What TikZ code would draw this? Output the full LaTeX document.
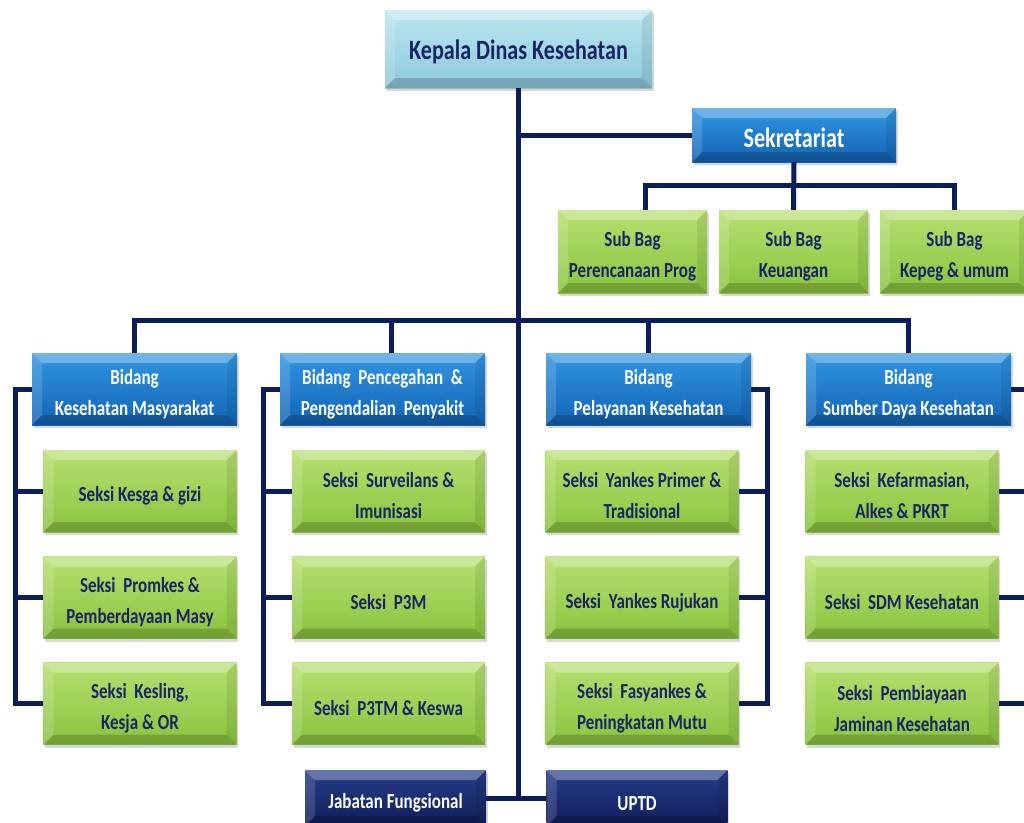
\documentclass[tikz,border=0pt]{standalone}
\usepackage{fontspec}
\setmainfont[FakeStretch=0.79]{Carlito}
\usetikzlibrary{shadows}
\definecolor{linenavy}{HTML}{0B1D5A}
\definecolor{txtnavy}{HTML}{1A2464}
\definecolor{headtop}{HTML}{BCE6F1}
\definecolor{headbot}{HTML}{8CC9DA}
\definecolor{bluetop}{HTML}{3196E2}
\definecolor{bluebot}{HTML}{1263B4}
\definecolor{greentop}{HTML}{B6E070}
\definecolor{greenbot}{HTML}{8AC33E}
\definecolor{darktop}{HTML}{273B88}
\definecolor{darkbot}{HTML}{101E5B}
\newcommand\atas{\rule{0pt}{25pt}}

\begin{document}
\begin{tikzpicture}[x=1pt,y=-1pt,
    every node/.style={inner sep=2pt,align=center,font=\bfseries\fontsize{21.5}{31}\selectfont,
        execute at begin node={\rule{0pt}{25pt}}},
    bevel/.style={path picture={
        \path (path picture bounding box.north west) coordinate (pa)
              (path picture bounding box.north east) coordinate (pb)
              (path picture bounding box.south east) coordinate (pc)
              (path picture bounding box.south west) coordinate (pd);
        \fill[white,opacity=.3] (pa)--(pb)--([shift={(-10pt,-10pt)}]pb)--([shift={(10pt,-10pt)}]pa)--cycle;
        \fill[black,opacity=.08] (pb)--(pc)--([shift={(-10pt,10pt)}]pc)--([shift={(-10pt,-10pt)}]pb)--cycle;
        \fill[black,opacity=.18] (pc)--(pd)--([shift={(10pt,10pt)}]pd)--([shift={(-10pt,10pt)}]pc)--cycle;
        \fill[white,opacity=.15] (pd)--(pa)--([shift={(10pt,-10pt)}]pa)--([shift={(10pt,10pt)}]pd)--cycle;}},
    box/.style={rectangle,bevel,drop shadow={shadow xshift=1.5pt,shadow yshift=-3pt,opacity=.3}},
    head/.style={box,top color=headtop,bottom color=headbot,text=txtnavy,
        minimum width=267pt,minimum height=78pt,font=\bfseries\fontsize{28}{30}\selectfont},
    bidang/.style={box,top color=bluetop,bottom color=bluebot,text=white,
        minimum width=205pt,minimum height=72pt},
    seksi/.style={box,top color=greentop,bottom color=greenbot,text=txtnavy,
        minimum width=193pt,minimum height=82pt},
    lain/.style={box,top color=darktop,bottom color=darkbot,text=white,
        minimum width=181pt,minimum height=56pt},
    link/.style={draw=linenavy,line width=5pt}]
  \useasboundingbox[fill=white] (0,0) rectangle (1024,822);
  % pimpinan dan sekretariat
  \node[head] (kepala) at (518.5,49) {Kepala Dinas Kesehatan};
  \node[bidang,minimum width=204pt,minimum height=54pt,
        font=\bfseries\fontsize{28}{30}\selectfont] (sekre) at (794,135) {Sekretariat};
  \node[seksi,minimum width=149pt,minimum height=83pt] (sb1) at (632.5,251.5) {\atas Sub Bag\\Perencanaan Prog};
  \node[seksi,minimum width=149pt,minimum height=83pt] (sb2) at (793.5,251.5) {\atas Sub Bag\\Keuangan};
  \node[seksi,minimum width=149pt,minimum height=83pt] (sb3) at (954.5,251.5) {\atas Sub Bag\\Kepeg \& umum};
  % bidang
  \node[bidang] (bd1) at (134.5,389) {\atas Bidang\\Kesehatan Masyarakat};
  \node[bidang] (bd2) at (382.5,389) {\atas Bidang~ Pencegahan~ \&\\Pengendalian~ Penyakit};
  \node[bidang] (bd3) at (648.5,389) {\atas Bidang\\Pelayanan Kesehatan};
  \node[bidang] (bd4) at (908.5,389) {\atas Bidang\\Sumber Daya Kesehatan};
  % seksi
  \node[seksi] (s11) at (140,491) {Seksi Kesga \& gizi};
  \node[seksi] (s12) at (140,597.5) {\atas Seksi~ Promkes \&\\Pemberdayaan Masy};
  \node[seksi] (s13) at (140,703.5) {\atas Seksi~ Kesling,\\Kesja \& OR};
  \node[seksi] (s21) at (388.5,491) {\atas Seksi~ Surveilans \&\\Imunisasi};
  \node[seksi] (s22) at (388.5,597.5) {Seksi~ P3M};
  \node[seksi] (s23) at (388.5,703.5) {Seksi~ P3TM \& Keswa};
  \node[seksi] (s31) at (642,491) {\atas Seksi~ Yankes Primer \&\\Tradisional};
  \node[seksi] (s32) at (642,597.5) {Seksi~ Yankes Rujukan};
  \node[seksi] (s33) at (642,703.5) {\atas Seksi~ Fasyankes \&\\Peningkatan Mutu};
  \node[seksi] (s41) at (902,491) {\atas Seksi~ Kefarmasian,\\Alkes \& PKRT};
  \node[seksi] (s42) at (902,597.5) {Seksi~ SDM Kesehatan};
  \node[seksi] (s43) at (902,703.5) {\atas Seksi~ Pembiayaan\\Jaminan Kesehatan};
  % fungsional dan uptd
  \node[lain] (jabatan) at (395.5,798) {Jabatan Fungsional};
  \node[lain] (uptd) at (637,798) {UPTD};
  % garis
  \coordinate (sbbar) at (794,185);
  \coordinate (bdbar) at (518,320);
  \coordinate (k1) at (15,0);
  \coordinate (k2) at (263,0);
  \coordinate (k3) at (767,0);
  \coordinate (k4) at (1030,0);
  \draw[link] (kepala.south) -- (kepala.south |- jabatan.east);
  \draw[link] (jabatan.east) -- (uptd.west);
  \draw[link] (kepala.south |- sekre.west) -- (sekre.west);
  \draw[link] (sekre.south) -- (sb2.north);
  \draw[link] ([xshift=13pt]sb1.north) |- (sbbar) -| (sb3.north);
  \draw[link] (bd1.north) |- (bdbar) -| (bd4.north);
  \draw[link] ([xshift=9pt]bd2.north) -- ([xshift=9pt]bd2.north |- bdbar);
  \draw[link] (bd3.north) -- (bd3.north |- bdbar);
  \draw[link] (bd1.west) -| (k1 |- s13.west) -- (s13.west);
  \draw[link] (bd2.west) -| (k2 |- s23.west) -- (s23.west);
  \draw[link] (bd3.east) -| (k3 |- s33.east) -- (s33.east);
  \draw[link] (bd4.east) -| (k4 |- s43.east) -- (s43.east);
  \foreach \r in {1,2}{
    \draw[link] (k1 |- s1\r.west) -- (s1\r.west);
    \draw[link] (k2 |- s2\r.west) -- (s2\r.west);
    \draw[link] (k3 |- s3\r.east) -- (s3\r.east);
    \draw[link] (k4 |- s4\r.east) -- (s4\r.east);
  }
\end{tikzpicture}
\end{document}
